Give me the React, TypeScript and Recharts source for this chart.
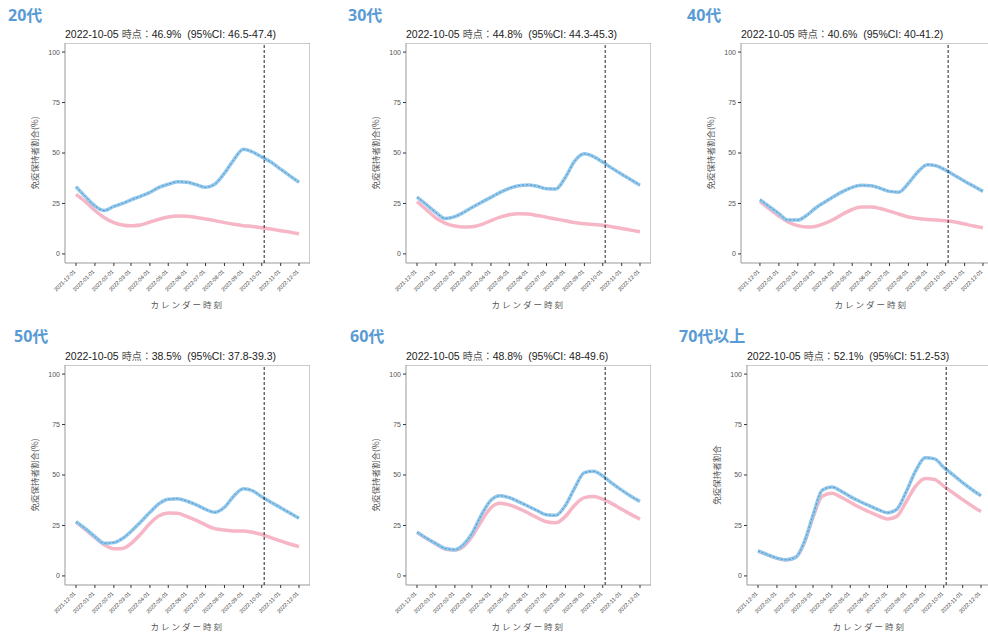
import React from 'react'
import {
	ComposedChart,
	Line,
	XAxis,
	YAxis,
	ReferenceLine,
	ReferenceArea,
} from 'recharts'

// days since 2021-12-01, semi-monthly samples
const days = [0, 15, 31, 46, 62, 76, 90, 105, 121, 136, 151, 166, 182, 197, 212, 227, 243, 258, 274, 289, 304, 319, 335, 350, 365]

const monthTicks = [0, 31, 62, 90, 121, 151, 182, 212, 243, 274, 304, 335, 365]
const monthLabels = [
	'2021-12-01', '2022-01-01', '2022-02-01', '2022-03-01', '2022-04-01', '2022-05-01', '2022-06-01',
	'2022-07-01', '2022-08-01', '2022-09-01', '2022-10-01', '2022-11-01', '2022-12-01',
]
const yTicks = [0, 25, 50, 75, 100]
const markerDay = 308 // 2022-10-05

const blue20 = [33.3, 28.5, 23.8, 21.5, 23.5, 25, 26.8, 28.5, 30.5, 33, 34.5, 35.8, 35.5, 34.3, 33, 34.5, 40, 46.5, 51.8, 50.5, 48, 45.5, 42, 38.7, 35.5]
const pink20 = [29.5, 26, 21.5, 18, 15.5, 14.3, 13.9, 14.3, 15.8, 17.2, 18.3, 18.8, 18.7, 18, 17.3, 16.5, 15.5, 14.7, 14, 13.6, 13, 12.3, 11.5, 10.8, 10]
const blue30 = [28.2, 24.5, 20.5, 17.6, 18.5, 20.5, 23, 25.5, 28, 30.5, 32.5, 33.8, 34.2, 33.5, 32.3, 32.2, 38, 46, 49.6, 48.2, 45.5, 42.5, 39.5, 36.8, 34]
const pink30 = [26, 22, 17.8, 15.3, 13.8, 13.3, 13.4, 14.5, 16.5, 18.2, 19.4, 19.9, 19.8, 19, 18.2, 17.3, 16.4, 15.5, 15, 14.6, 14.2, 13.5, 12.6, 11.8, 11]
const blue40 = [26.9, 23.5, 20, 16.8, 16.8, 19, 22.5, 25.5, 28.5, 31, 33, 34, 33.8, 32.5, 31, 30.6, 35, 40.5, 44.2, 43.6, 41.5, 38.8, 36, 33.5, 31]
const pink40 = [26, 22.5, 18.8, 15.8, 14, 13.3, 13.6, 15, 17.2, 19.8, 22, 23.2, 23.2, 22.5, 21.2, 19.8, 18.3, 17.6, 17.1, 16.8, 16.4, 15.8, 14.8, 13.8, 13]
const blue50 = [26.9, 23.5, 19.5, 16.2, 16.5, 18.5, 22, 26.5, 31.5, 35.8, 38, 38.2, 37, 35.2, 33, 31.5, 34, 39.5, 43.2, 42.2, 39.2, 36.5, 33.8, 31.2, 28.6]
const pink50 = [26.6, 23, 19, 15.5, 13.5, 13.6, 16, 20.5, 26, 29.8, 31.2, 31, 29.4, 27.5, 25.3, 23.4, 22.7, 22.3, 22.3, 21.6, 20.5, 19, 17.3, 15.8, 14.5]
const blue60 = [21.7, 18.8, 16, 13.6, 13, 15.5, 21, 30, 37.5, 39.7, 38.8, 36.8, 34.5, 32.3, 30.3, 30, 35, 43.5, 51.2, 51.8, 49.5, 46, 42.5, 39.5, 36.9]
const pink60 = [21.5, 18.6, 15.8, 13.3, 12.8, 14.5, 19.5, 27, 33.8, 36, 35.2, 33.5, 31.2, 28.8, 26.8, 26.3, 29.5, 35, 38.8, 39.3, 38, 35.8, 33, 30.5, 28.1]
const blue70 = [12.4, 10.6, 8.8, 8, 9.3, 17, 30, 42.5, 44, 42, 39.3, 37, 34.8, 32.8, 31.3, 33, 42, 52, 58.5, 58, 53.8, 50.2, 46.2, 42.8, 39.7]
const pink70 = [12.3, 10.5, 8.7, 7.9, 9.2, 16.5, 29, 39.5, 41, 39, 36.5, 34, 31.8, 29.8, 28.2, 29.5, 37, 44.5, 48.3, 47.8, 44.5, 41.2, 37.8, 34.7, 31.9]

const BLUE_BAND = '#93c8eb'
const BLUE_LINE = '#4f95cc'
const PINK_BAND = '#f6b6c6'
const HEAD = '#5b9bd5'
const SANS = '"Liberation Sans", Arial, "Noto Sans CJK JP", sans-serif'
const CJK = '"Noto Sans CJK JP", sans-serif'

type Panel = {
	heading: string
	value: string
	ci: string
	ylabel: string
	blue: number[]
	pink: number[]
	left: number // plot-area left edge
	top: number // plot-area top edge
	xLo: number
	headX: number
	headY: number
}

const PLOT_H = 220
const X_HI = 383
const PX_PER_DAY = 0.611

const panels: Panel[] = [
	{ heading: '20代', value: '46.9%', ci: '46.5-47.4', ylabel: '免疫保持者割合(%)', blue: blue20, pink: pink20, left: 65, top: 43, xLo: -18, headX: 8, headY: 2 },
	{ heading: '30代', value: '44.8%', ci: '44.3-45.3', ylabel: '免疫保持者割合(%)', blue: blue30, pink: pink30, left: 406, top: 43, xLo: -18, headX: 348, headY: 2 },
	{ heading: '40代', value: '40.6%', ci: '40-41.2', ylabel: '免疫保持者割合(%)', blue: blue40, pink: pink40, left: 741, top: 43, xLo: -31, headX: 687, headY: 2 },
	{ heading: '50代', value: '38.5%', ci: '37.8-39.3', ylabel: '免疫保持者割合(%)', blue: blue50, pink: pink50, left: 65, top: 365, xLo: -18, headX: 14, headY: 323 },
	{ heading: '60代', value: '48.8%', ci: '48-49.6', ylabel: '免疫保持者割合(%)', blue: blue60, pink: pink60, left: 406, top: 365, xLo: -18, headX: 350, headY: 323 },
	{ heading: '70代以上', value: '52.1%', ci: '51.2-53', ylabel: '免疫保持者割合', blue: blue70, pink: pink70, left: 747, top: 365, xLo: -18, headX: 679, headY: 323 },
]

function DateTick(props: any) {
	const { x, y, payload } = props
	const i = monthTicks.indexOf(payload.value)
	return (
		<text
			x={x}
			y={y + 4}
			transform={`rotate(-45 ${x} ${y + 4})`}
			textAnchor='end'
			fontSize={5.5}
			fill='#333'
			fontFamily={SANS}
		>
			{monthLabels[i]}
		</text>
	)
}

function PanelChart({ p }: { p: Panel }) {
	const data = days.map((d, i) => ({ d, blue: p.blue[i], pink: p.pink[i] }))
	const plotW = (X_HI - p.xLo) * PX_PER_DAY
	const yAxisW = 40
	return (
		<>
			<div
				style={{
					position: 'absolute',
					left: p.headX,
					top: p.headY,
					fontFamily: '"Open Sans", "Noto Sans CJK JP", sans-serif',
					fontWeight: 700,
					fontSize: 16,
					color: HEAD,
					whiteSpace: 'nowrap',
				}}
			>
				{p.heading}
			</div>
			<div
				style={{
					position: 'absolute',
					left: p.left,
					top: p.top - 17,
					fontFamily: SANS,
					fontSize: 10.5,
					color: '#222',
					whiteSpace: 'pre',
				}}
			>
				2022-10-05 <span style={{ fontFamily: CJK, color: '#555', fontSize: 10 }}>時点：</span>
				{p.value}  (95%CI: {p.ci})
			</div>
			<div
				style={{
					position: 'absolute',
					left: p.left - 31,
					top: p.top + PLOT_H / 2,
					transform: 'translate(-50%, -50%) rotate(-90deg)',
					fontFamily: CJK,
					fontSize: 8.5,
					color: '#555',
					whiteSpace: 'nowrap',
				}}
			>
				{p.ylabel}
			</div>
			<div
				style={{
					position: 'absolute',
					left: p.left + ((0 - p.xLo) + 182) * PX_PER_DAY,
					top: p.top + PLOT_H + 35,
					transform: 'translateX(-50%)',
					fontFamily: CJK,
					fontSize: 8.5,
					letterSpacing: 2,
					color: '#555',
					whiteSpace: 'nowrap',
				}}
			>
				カレンダー時刻
			</div>
			<div style={{ position: 'absolute', left: p.left - yAxisW, top: p.top }}>
				<ComposedChart
					width={yAxisW + plotW}
					height={PLOT_H + 40}
					data={data}
					margin={{ top: 0, right: 0, bottom: 0, left: 0 }}
				>
					<XAxis
						dataKey='d'
						type='number'
						domain={[p.xLo, X_HI]}
						ticks={monthTicks}
						allowDataOverflow
						axisLine={false}
						tickLine={{ stroke: '#333' }}
						tickSize={3}
						height={40}
						interval={0}
						tick={<DateTick />}
					/>
					<YAxis
						type='number'
						domain={[-4.5, 104.5]}
						ticks={yTicks}
						allowDataOverflow
						axisLine={false}
						tickLine={{ stroke: '#333' }}
						tickSize={3}
						width={yAxisW}
						tick={{ fontSize: 7, fill: '#555', fontFamily: SANS }}
					/>
					<ReferenceArea
						x1={p.xLo}
						x2={X_HI}
						y1={-4.5}
						y2={104.5}
						fill='none'
						stroke='#999'
						strokeWidth={1}
						fillOpacity={0}
					/>
					<Line
						dataKey='pink'
						type='monotone'
						stroke={PINK_BAND}
						strokeWidth={3.5}
						dot={false}
						isAnimationActive={false}
					/>
					<Line
						dataKey='blue'
						type='monotone'
						stroke={BLUE_BAND}
						strokeWidth={3.5}
						dot={false}
						isAnimationActive={false}
					/>
					<Line
						dataKey='blue'
						type='monotone'
						stroke={BLUE_LINE}
						strokeWidth={1}
						strokeDasharray='2 2'
						dot={false}
						isAnimationActive={false}
					/>
					<ReferenceLine x={markerDay} stroke='#222' strokeDasharray='3 2' strokeWidth={1} />
				</ComposedChart>
			</div>
		</>
	)
}

export default function App() {
	return (
		<div
			style={{
				position: 'absolute',
				left: 0,
				top: 0,
				width: 988,
				height: 634,
				overflow: 'hidden',
				background: '#fff',
			}}
		>
			{panels.map((p) => (
				<PanelChart key={p.heading} p={p} />
			))}
		</div>
	)
}
